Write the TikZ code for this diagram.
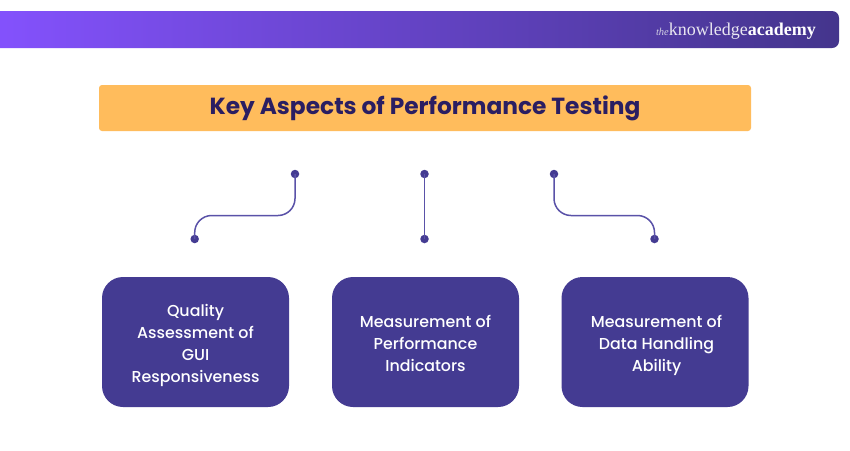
\documentclass[tikz,border=0pt]{standalone}
\usepackage{fontspec}
\setmainfont{Poppins}
\newfontfamily\popmed{Poppins}[UprightFont=* Medium,BoldFont=* Medium]
\newfontfamily\popbold{Poppins}[UprightFont=* Bold,BoldFont=* Bold]
\newfontfamily\logofont{Liberation Serif}
\usetikzlibrary{calc}
\definecolor{boxc}{HTML}{443B92}
\definecolor{barl}{HTML}{8552FF}
\definecolor{barr}{HTML}{44358C}
\definecolor{titlebg}{HTML}{FFBC5C}
\definecolor{titletx}{HTML}{2A1E62}
\definecolor{wirec}{HTML}{5A52A8}
\newcommand{\toppad}{\rule{0pt}{21.4pt}}
\tikzset{
  x=1pt,y=-1pt,
  card/.style={fill=boxc,rounded corners=21pt,minimum width=187pt,minimum height=130pt,inner sep=0pt,text=white,align=center,font=\popmed\fontsize{15.85}{22}\selectfont},
  dot/.style={circle,fill=boxc,minimum size=8.5pt,inner sep=0pt},
  wire/.style={draw=wirec,line width=1.5pt,rounded corners=17pt},
  titlebar/.style={fill=titlebg,rounded corners=3pt,minimum width=652pt,minimum height=46pt,inner sep=0pt,text=titletx,font=\popbold\fontsize{23.3}{28}\selectfont},
}
\begin{document}
\begin{tikzpicture}
\useasboundingbox (0,0) rectangle (850,450);
\fill[white] (0,0) rectangle (850,450);
% header bar
\shade[left color=barl,right color=barr,rounded corners=7pt] (-20,11) rectangle (839,48);
\node[anchor=base east,inner sep=0pt,text=white,font=\logofont\fontsize{18}{20}\selectfont] (logo) at (816,35.5)
  {{\fontsize{10.5}{12}\selectfont\itshape\color{white!75!barr}the}{\color{white!88!barr}knowledge}\textbf{academy}};
% title
\node[titlebar] (title) at (425,108) {\rule[-4pt]{0pt}{20pt}Key Aspects of Performance Testing};
% cards
\node[card] (c1) at (195.5,342) {\toppad Quality\\Assessment of\\GUI\\Responsiveness\strut};
\node[card] (c2) at (425.5,342) {\toppad Measurement of\\Performance\\Indicators\strut};
\node[card] (c3) at (655,342) {\toppad\hspace*{3pt}Measurement of\\\hspace*{3pt}Data Handling\\\hspace*{3pt}Ability\strut};
% dots
\node[dot] (a1) at (295,174) {};
\node[dot] (b1) at (194.7,239) {};
\node[dot] (a2) at (424.5,174) {};
\node[dot] (b2) at (424.5,239) {};
\node[dot] (a3) at (554,174) {};
\node[dot] (b3) at (654.5,239) {};
\coordinate (m1) at (245,215.5);
\coordinate (m3) at (605,215.5);
% connectors
\draw[wire] (a1.center) |- (m1) -| (b1.center);
\draw[wire] (a2.center) -- (b2.center);
\draw[wire] (a3.center) |- (m3) -| (b3.center);
\end{tikzpicture}
\end{document}
